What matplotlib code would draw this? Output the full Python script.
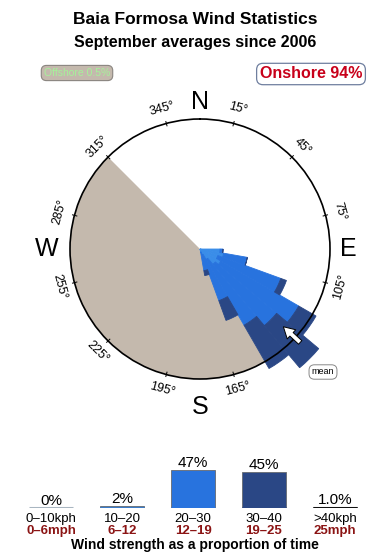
import numpy as np
import matplotlib.pyplot as plt

plt.rcParams['font.family'] = ['Liberation Sans', 'DejaVu Sans']

# rose: 10 degree direction bins, radial length of each speed class (circle = 13)
dir_centres = [95, 105, 115, 125, 135, 145, 155, 165]
rose_10_20 = [2.0, 2.4, 1.9, 2.4, 2.0, 1.2, 0.6, 0.3]
rose_20_30 = [0.3, 2.4, 6.7, 9.0, 8.0, 7.6, 4.9, 1.9]
rose_30_40 = [0.0, 0.0, 0.6, 2.0, 5.5, 5.0, 2.1, 0.5]
rose_limit = 13.0
offshore_from, offshore_to = 150, 315
mean_dir = 133

tick_angles = list(range(15, 360, 30))
cardinals = ['N', 'E', 'S', 'W']
cardinal_r = [14.7, 14.8, 15.8, 15.3]

# strength legend
speed_kph = ['0\u201310kph', '10\u201320', '20\u201330', '30\u201340', '>40kph']
speed_mph = ['0\u20136mph', '6\u201312', '12\u201319', '19\u201325', '25mph']
speed_share = [0, 2, 47, 45, 1.0]
speed_share_text = ['0%', '2%', '47%', '45%', '1.0%']

tan = '#c4b9ad'
rose_cols = ['#3a8de8', '#2873de', '#2a4785']
legend_cols = ['#a9b6c1', '#3b7cc9', '#2873de', '#2a4785', '#111111']


def main():
    fig = plt.figure(figsize=(3.9, 5.6), dpi=100)
    W, H = 390.0, 560.0

    fig.text(195 / W, 1 - 19 / H, 'Baia Formosa Wind Statistics', ha='center', va='center',
             fontsize=12.5, fontweight='bold')
    fig.text(195 / W, 1 - 43 / H, 'September averages since 2006', ha='center', va='center',
             fontsize=11.5, fontweight='bold')
    fig.text(77 / W, 1 - 73 / H, 'Offshore 0.5%', ha='center', va='center', fontsize=7.5,
             color='#a6f29a',
             bbox=dict(boxstyle='round,pad=0.25,rounding_size=0.5', fc=tan, ec='#8a8580', lw=0.8))
    fig.text(311 / W, 1 - 74 / H, 'Onshore 94%', ha='center', va='center', fontsize=11.5,
             color='#c8001a', fontweight='bold',
             bbox=dict(boxstyle='round,pad=0.2,rounding_size=0.4', fc='white', ec='#6f7f9f', lw=0.9))

    # wind rose
    cx, cy, R = 200, 249, 130
    ax = fig.add_axes([(cx - R) / W, (H - cy - R) / H, 2 * R / W, 2 * R / H], projection='polar')
    ax.set_theta_zero_location('N')
    ax.set_theta_direction(-1)
    ax.set_ylim(0, rose_limit)
    ax.set_xticks([])
    ax.set_yticks([])
    ax.grid(False)
    ax.spines['polar'].set_linewidth(1.2)

    mid = (offshore_from + offshore_to) / 2
    ax.bar(np.radians(mid), rose_limit, width=np.radians(offshore_to - offshore_from),
           color=tan, linewidth=0, zorder=0.5)

    theta = np.radians(dir_centres)
    bottom = np.zeros(len(dir_centres))
    for vals, col in zip([rose_10_20, rose_20_30, rose_30_40], rose_cols):
        ax.bar(theta, vals, width=np.radians(10), bottom=bottom, color=col,
               edgecolor=col, linewidth=0.6, clip_on=False, zorder=1)
        bottom = bottom + np.array(vals)

    for a in tick_angles:
        t = np.radians(a)
        ax.plot([t, t], [rose_limit - 0.25, rose_limit + 0.2], color='black', lw=0.7,
                clip_on=False, zorder=0.8)
        rot = -a
        while rot <= -90:
            rot += 180
        while rot > 90:
            rot -= 180
        ax.text(t, 14.5, '%d\u00b0' % a, rotation=rot, ha='center', va='center',
                fontsize=9, rotation_mode='anchor', clip_on=False, zorder=0.8)

    for i, c in enumerate(cardinals):
        ax.text(np.radians(i * 90), cardinal_r[i], c, ha='center', va='center', fontsize=18,
                clip_on=False)

    ax.annotate('', xy=(np.radians(mean_dir), 11.4), xytext=(np.radians(mean_dir), 13.7),
                arrowprops=dict(arrowstyle='simple,head_length=0.8,head_width=0.9,tail_width=0.35',
                                fc='white', ec='black', lw=0.7, shrinkA=0, shrinkB=0),
                annotation_clip=False, zorder=5)
    fig.text(323 / W, 1 - 372 / H, 'mean', ha='center', va='center', fontsize=6.5,
             bbox=dict(boxstyle='round,pad=0.3,rounding_size=0.6', fc='white', ec='#888888', lw=0.7))

    # strength bars
    lax = fig.add_axes([15.5 / W, 52 / H, 355 / W, 48 / H])
    lax.set_xlim(-0.5, 4.5)
    lax.set_ylim(0, 60)
    lax.axis('off')
    x = np.arange(len(speed_share))
    bw = 0.63
    lax.bar(x, speed_share, width=bw, color=legend_cols, edgecolor='#666a70', linewidth=0.6)
    lax.hlines([0] * len(x), x - bw / 2, x + bw / 2, colors=legend_cols, lw=2.2)
    for i in x:
        lax.annotate(speed_share_text[i], (i, speed_share[i]), xytext=(0, 0),
                     textcoords='offset points', ha='center', va='bottom', fontsize=11,
                     annotation_clip=False)
        lax.annotate(speed_kph[i], (i, 0), xytext=(0, -8), textcoords='offset points',
                     ha='center', va='center', fontsize=9.5, annotation_clip=False)
        lax.annotate(speed_mph[i], (i, 0), xytext=(0, -16.5), textcoords='offset points',
                     ha='center', va='center', fontsize=9.5, fontweight='bold',
                     color='#8b1414', annotation_clip=False)

    fig.text(195 / W, 1 - 545 / H, 'Wind strength as a proportion of time', ha='center',
             va='center', fontsize=10, fontweight='bold')

    fig.savefig('out.png', dpi=100)


if __name__ == '__main__':
    main()
